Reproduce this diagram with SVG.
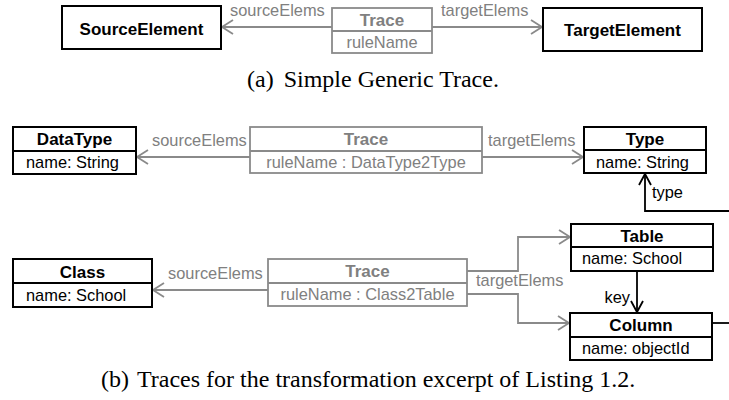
<svg xmlns="http://www.w3.org/2000/svg" width="729" height="400" viewBox="0 0 729 400">
<style>
.box{fill:#fff;stroke:#000;stroke-width:2}
.tbox{fill:#fff;stroke:#8a8a8a;stroke-width:1.8}
.div{stroke:#000;stroke-width:2}
.tdiv{stroke:#8a8a8a;stroke-width:1.8}
.b{font-family:"Liberation Sans",Arial,sans-serif;font-weight:bold;font-size:17px;fill:#000;text-anchor:middle}
.r{font-family:"Liberation Sans",Arial,sans-serif;font-size:16.4px;fill:#000}
.tb{font-family:"Liberation Sans",Arial,sans-serif;font-weight:bold;font-size:17px;fill:#808080;text-anchor:middle}
.tr{font-family:"Liberation Sans",Arial,sans-serif;font-size:16.4px;fill:#808080}
.cap{font-family:"Liberation Serif","Times New Roman",serif;font-size:24px;fill:#000}
.gl{fill:none;stroke:#8a8a8a;stroke-width:1.8}
.bl{fill:none;stroke:#000;stroke-width:1.8}
</style>
<defs>
<marker id="ag" markerUnits="userSpaceOnUse" markerWidth="14" markerHeight="16" refX="12" refY="8" orient="auto"><path d="M1,1 L12,8 L1,15" fill="none" stroke="#8a8a8a" stroke-width="1.8"/></marker>
<marker id="ab" markerUnits="userSpaceOnUse" markerWidth="14" markerHeight="16" refX="12" refY="8" orient="auto"><path d="M1,2 L12,8 L1,14" fill="none" stroke="#000" stroke-width="1.8"/></marker>
</defs>

<g id="connectors">
<path class="gl" d="M332,27 H222" marker-end="url(#ag)"/>
<path class="gl" d="M432,27 H542" marker-end="url(#ag)"/>
<path class="gl" d="M250,157 H137" marker-end="url(#ag)"/>
<path class="gl" d="M482,157 H583" marker-end="url(#ag)"/>
<path class="bl" d="M735,211 H645 V174" marker-end="url(#ab)"/>
<path class="gl" d="M268,290 H153" marker-end="url(#ag)"/>
<path class="gl" d="M467,271 H518 V237 H570" marker-end="url(#ag)"/>
<path class="gl" d="M467,294 H518 V323 H569" marker-end="url(#ag)"/>
<path class="bl" d="M637,271 V312" marker-end="url(#ab)"/>
<path class="bl" d="M712,323 H735"/>
<text class="tr" x="230" y="16">sourceElems</text>
<text class="tr" x="441" y="16">targetElems</text>
<text class="tr" x="152" y="146">sourceElems</text>
<text class="tr" x="488" y="146">targetElems</text>
<text class="r" x="652" y="198">type</text>
<text class="tr" x="168" y="279">sourceElems</text>
<text class="tr" x="476" y="286">targetElems</text>
<text class="r" x="630" y="303" text-anchor="end">key</text>
</g>

<g id="SourceElement">
<rect class="box" x="62" y="6" width="159" height="43"/>
<text class="b" x="141.5" y="35">SourceElement</text>
</g>
<g id="Trace_a">
<rect class="tbox" x="332" y="8" width="100" height="45"/>
<line class="tdiv" x1="332" y1="31" x2="432" y2="31"/>
<text class="tb" x="382" y="26">Trace</text>
<text class="tr" x="382" y="48" text-anchor="middle">ruleName</text>
</g>
<g id="TargetElement">
<rect class="box" x="543" y="8" width="159" height="43"/>
<text class="b" x="622.5" y="36">TargetElement</text>
</g>
<text class="cap" x="247" y="87" font-size="24.5">(a)<tspan dx="10">Simple Generic Trace.</tspan></text>

<g id="DataType">
<rect class="box" x="13" y="127" width="123" height="47"/>
<line class="div" x1="13" y1="151" x2="136" y2="151"/>
<text class="b" x="74.5" y="145">DataType</text>
<text class="r" x="26" y="168">name: String</text>
</g>
<g id="Trace_b1">
<rect class="tbox" x="250" y="127" width="232" height="46"/>
<line class="tdiv" x1="250" y1="151" x2="482" y2="151"/>
<text class="tb" x="366" y="145">Trace</text>
<text class="tr" x="366" y="168" text-anchor="middle">ruleName : DataType2Type</text>
</g>
<g id="Type">
<rect class="box" x="584" y="127" width="122" height="46"/>
<line class="div" x1="584" y1="150" x2="706" y2="150"/>
<text class="b" x="645" y="145">Type</text>
<text class="r" x="596" y="168">name: String</text>
</g>

<g id="Class">
<rect class="box" x="13" y="259" width="139" height="48"/>
<line class="div" x1="13" y1="283" x2="152" y2="283"/>
<text class="b" x="82.5" y="278">Class</text>
<text class="r" x="26" y="301">name: School</text>
</g>
<g id="Trace_b2">
<rect class="tbox" x="268" y="259" width="199" height="47"/>
<line class="tdiv" x1="268" y1="283" x2="467" y2="283"/>
<text class="tb" x="367.5" y="277">Trace</text>
<text class="tr" x="367.5" y="300" text-anchor="middle">ruleName : Class2Table</text>
</g>
<g id="Table">
<rect class="box" x="571" y="224" width="142" height="47"/>
<line class="div" x1="571" y1="247" x2="713" y2="247"/>
<text class="b" x="642" y="242">Table</text>
<text class="r" x="582" y="264">name: School</text>
</g>
<g id="Column">
<rect class="box" x="570" y="313" width="142" height="47"/>
<line class="div" x1="570" y1="337" x2="712" y2="337"/>
<text class="b" x="641" y="331">Column</text>
<text class="r" x="582" y="354">name: objectId</text>
</g>
<text class="cap" x="101" y="387" font-size="23.6">(b)<tspan dx="8">Traces for the transformation excerpt of Listing 1.2.</tspan></text>
</svg>
